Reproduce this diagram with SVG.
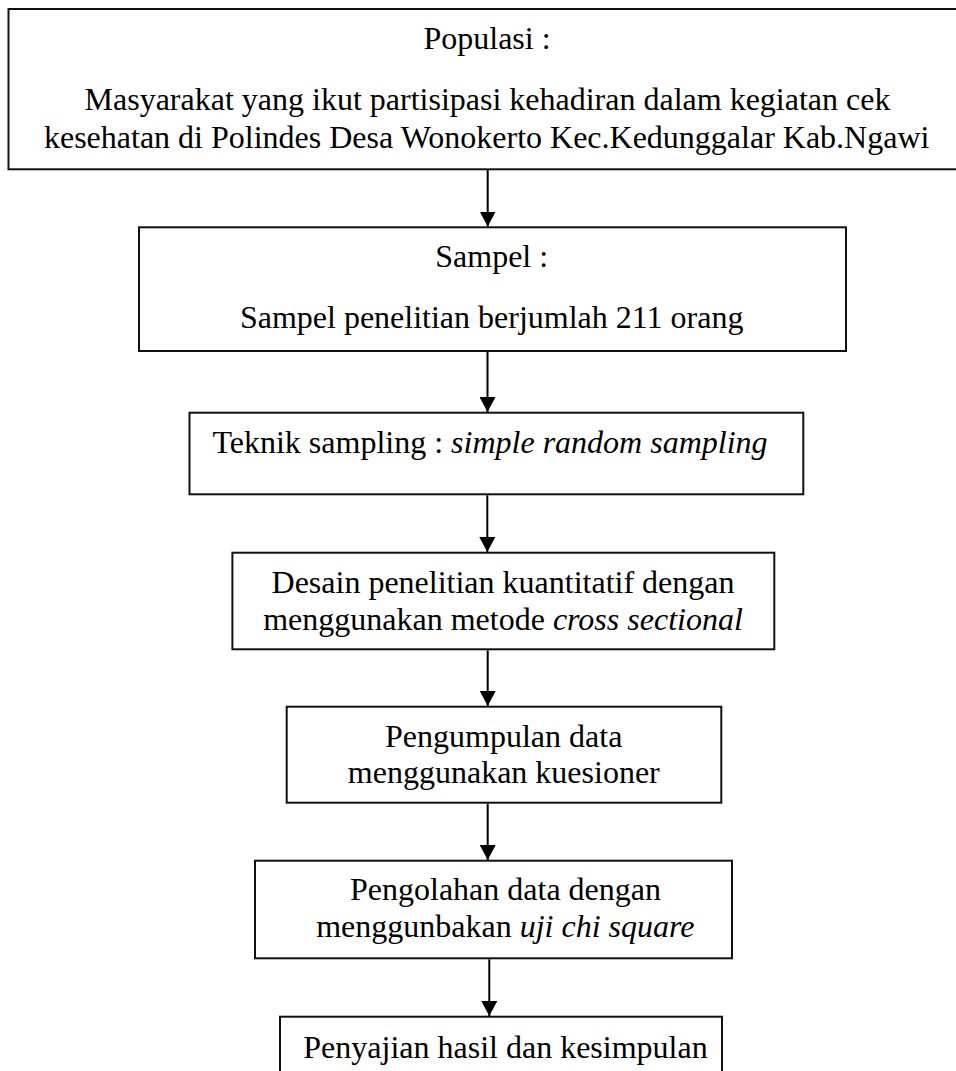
<svg xmlns="http://www.w3.org/2000/svg" width="956" height="1071" viewBox="0 0 956 1071">
  <defs>
    <style>
      .box { fill: #ffffff; stroke: #111111; stroke-width: 2; }
      .lbl { font-family: "Liberation Serif", "Times New Roman", serif; font-size: 32px; fill: #000000; text-anchor: middle; }
      .it { font-style: italic; }
      .link { stroke: #000000; stroke-width: 2; fill: none; marker-end: url(#head); }
    </style>
    <!-- solid triangular arrowhead, tip at the end of the line -->
    <marker id="head" viewBox="0 0 15 16" refX="15" refY="8" markerWidth="15" markerHeight="16" markerUnits="userSpaceOnUse" orient="auto">
      <path d="M0,0 L15,8 L0,16 Z" fill="#000000"/>
    </marker>
  </defs>

  <rect width="956" height="1071" fill="#ffffff"/>

  <!-- connectors between steps -->
  <g id="connectors">
    <line class="link" x1="487.7" y1="170" x2="487.7" y2="226.5"/>
    <line class="link" x1="487.5" y1="352" x2="487.5" y2="412"/>
    <line class="link" x1="487.3" y1="495.3" x2="487.3" y2="552"/>
    <line class="link" x1="487.7" y1="650.3" x2="487.7" y2="706"/>
    <line class="link" x1="487.7" y1="803.7" x2="487.7" y2="860"/>
    <line class="link" x1="489.3" y1="959.3" x2="489.3" y2="1016"/>
  </g>

  <g id="populasi">
    <rect class="box" x="8.5" y="9" width="960" height="160.3"/>
    <text class="lbl" x="487" y="48.5">Populasi :</text>
    <text class="lbl" x="487.5" y="110">Masyarakat yang ikut partisipasi kehadiran dalam kegiatan cek</text>
    <text class="lbl" x="486.7" y="148.3">kesehatan di Polindes Desa Wonokerto Kec.Kedunggalar Kab.Ngawi</text>
  </g>

  <g id="sampel">
    <rect class="box" x="139" y="227.3" width="707" height="123.7"/>
    <text class="lbl" x="491.7" y="266.7">Sampel :</text>
    <text class="lbl" x="491.7" y="328">Sampel penelitian berjumlah 211 orang</text>
  </g>

  <g id="teknik-sampling">
    <rect class="box" x="189.5" y="412.7" width="613.8" height="81.6"/>
    <text class="lbl" x="490" y="453.3">Teknik sampling : <tspan class="it">simple random sampling</tspan></text>
  </g>

  <g id="desain">
    <rect class="box" x="232.4" y="552.7" width="541.9" height="96.6"/>
    <text class="lbl" x="503" y="593.3">Desain penelitian kuantitatif dengan</text>
    <text class="lbl" x="503" y="630">menggunakan metode <tspan class="it">cross sectional</tspan></text>
  </g>

  <g id="pengumpulan">
    <rect class="box" x="286.7" y="706.7" width="434.6" height="96"/>
    <text class="lbl" x="503.7" y="746.7">Pengumpulan data</text>
    <text class="lbl" x="503.8" y="783.3">menggunakan kuesioner</text>
  </g>

  <g id="pengolahan">
    <rect class="box" x="255" y="860.7" width="477" height="97.6"/>
    <text class="lbl" x="505.5" y="900">Pengolahan data dengan</text>
    <text class="lbl" x="505.3" y="936.7">menggunbakan <tspan class="it">uji chi square</tspan></text>
  </g>

  <g id="penyajian">
    <rect class="box" x="280" y="1016.7" width="442" height="80"/>
    <text class="lbl" x="505.5" y="1058.3">Penyajian hasil dan kesimpulan</text>
  </g>
</svg>
